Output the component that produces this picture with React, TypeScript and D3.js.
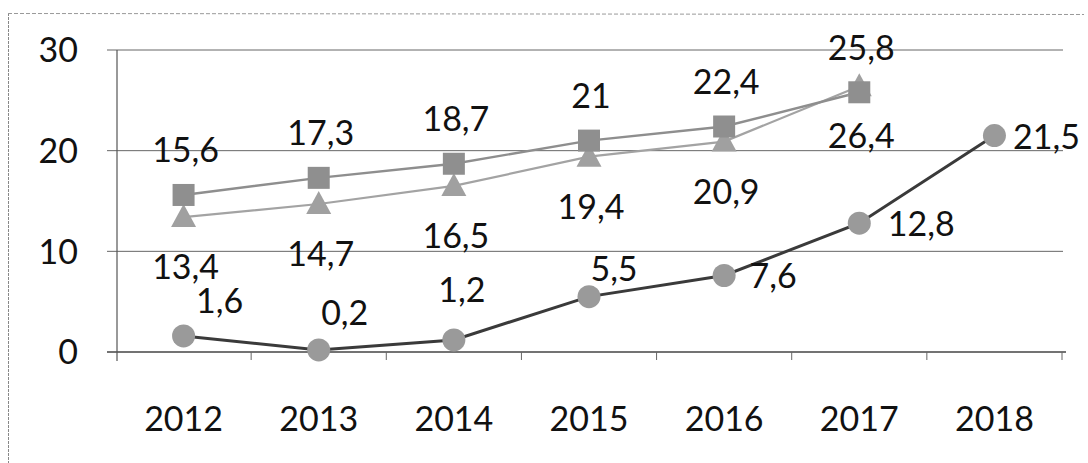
import React from 'react';
import * as d3 from 'd3';

const years = ['2012', '2013', '2014', '2015', '2016', '2017', '2018'];
const squareValues = [15.6, 17.3, 18.7, 21, 22.4, 25.8];
const triangleValues = [13.4, 14.7, 16.5, 19.4, 20.9, 26.4];
const circleValues = [1.6, 0.2, 1.2, 5.5, 7.6, 12.8, 21.5];
const yTicks = [0, 10, 20, 30];

// label offsets (style) for the circle series, relative to marker centre
const circleLabelOffsets: [number, number][] = [
  [36, -35], [26, -37], [8, -50], [25, -28], [49, 0], [62, 1], [52, 1],
];

const W = 1088;
const H = 463;
const FONT = 'Lato, "Open Sans", sans-serif';
const FS = 34;

const fmt = (v: number) => String(v).replace('.', ',');

export default function App() {
  const x = d3.scaleBand<string>().domain(years).range([116, 1062]);
  const cx = (i: number) => (x(years[i]) as number) + x.bandwidth() / 2;
  const y = d3.scaleLinear().domain([0, 30]).range([352, 50]);
  const base = FS * 0.36;

  const lineGen = d3
    .line<number>()
    .x((_, i) => cx(i))
    .y((d) => y(d));

  const tri = 'M0,-13L12.5,10L-12.5,10Z';

  return (
    <svg
      width={W}
      height={H}
      style={{ position: 'absolute', left: 0, top: 0, background: '#fff' }}
      fontFamily={FONT}
    >
      {/* scanned frame */}
      <line x1={8.5} y1={13} x2={8.5} y2={H} stroke="#888" strokeWidth={1} strokeDasharray="3 1" />
      <line x1={8} y1={13.5} x2={1084} y2={14.5} stroke="#999" strokeWidth={1} strokeDasharray="4 2" />

      {/* gridlines */}
      {yTicks.map((t) => (
        <line
          key={'g' + t}
          x1={107}
          x2={t === 0 ? 1066 : 1063}
          y1={y(t)}
          y2={y(t)}
          stroke={t === 0 ? '#444' : '#666'}
          strokeWidth={t === 0 ? 1.3 : 1}
        />
      ))}
      {/* y axis */}
      <line x1={117} x2={117} y1={y(30)} y2={y(0) + 9} stroke="#555" strokeWidth={1.2} />
      {/* category ticks */}
      {years.map((yr) => (
        <line
          key={'t' + yr}
          x1={(x(yr) as number) + x.bandwidth()}
          x2={(x(yr) as number) + x.bandwidth()}
          y1={y(0)}
          y2={y(0) + 8}
          stroke="#666"
          strokeWidth={1}
        />
      ))}

      {/* y tick labels */}
      {yTicks.map((t) => (
        <text key={'yl' + t} x={78} y={y(t) + base} textAnchor="end" fontSize={FS} fill="#111">
          {t}
        </text>
      ))}
      {/* x labels */}
      {years.map((yr, i) => (
        <text key={'xl' + yr} x={cx(i)} y={419 + base} textAnchor="middle" fontSize={FS} fill="#111">
          {yr}
        </text>
      ))}

      {/* series lines */}
      <path d={lineGen(triangleValues) || ''} fill="none" stroke="#a3a3a3" strokeWidth={2.2} />
      <path d={lineGen(squareValues) || ''} fill="none" stroke="#8e8e8e" strokeWidth={2.4} />
      <path d={lineGen(circleValues) || ''} fill="none" stroke="#3a3a3a" strokeWidth={3} />

      {/* markers */}
      {triangleValues.map((v, i) => (
        <path key={'tm' + i} d={tri} transform={`translate(${cx(i)},${y(v)})`} fill="#a0a0a0" />
      ))}
      {squareValues.map((v, i) => (
        <rect key={'sm' + i} x={cx(i) - 11} y={y(v) - 11} width={22} height={22} fill="#8f8f8f" />
      ))}
      {circleValues.map((v, i) => (
        <circle key={'cm' + i} cx={cx(i)} cy={y(v)} r={11.5} fill="#9a9a9a" />
      ))}

      {/* data labels */}
      {squareValues.map((v, i) => (
        <text key={'sl' + i} x={cx(i) + 2} y={y(v) - 45 + base} textAnchor="middle" fontSize={FS} fill="#111">
          {fmt(v)}
        </text>
      ))}
      {triangleValues.map((v, i) => (
        <text key={'tl' + i} x={cx(i) + 2} y={y(v) + 50 + base} textAnchor="middle" fontSize={FS} fill="#111">
          {fmt(v)}
        </text>
      ))}
      {circleValues.map((v, i) => (
        <text
          key={'cl' + i}
          x={cx(i) + circleLabelOffsets[i][0]}
          y={y(v) + circleLabelOffsets[i][1] + base}
          textAnchor="middle"
          fontSize={FS}
          fill="#111"
        >
          {fmt(v)}
        </text>
      ))}
    </svg>
  );
}
